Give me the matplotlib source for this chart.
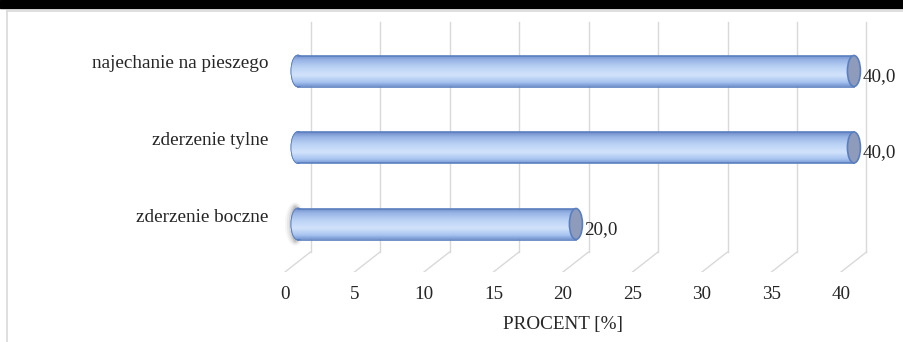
import numpy as np
import matplotlib
matplotlib.use("Agg")
import matplotlib.pyplot as plt
from matplotlib.patches import Ellipse, Rectangle
from matplotlib.transforms import ScaledTranslation
from matplotlib.colors import LinearSegmentedColormap

kategorie = ["zderzenie boczne", "zderzenie tylne", "najechanie na pieszego"]
procent = [20.0, 40.0, 40.0]
ticks = [0, 5, 10, 15, 20, 25, 30, 35, 40]

plt.rcParams['font.family'] = ['Liberation Serif', 'DejaVu Serif']
fs = 13.8

fig = plt.figure(figsize=(9.04, 3.42), dpi=100)
W, H = 904, 342

# tlo: czarny pasek u gory i szara ramka
fig.patches.append(Rectangle((0, 1 - 8 / H), 1, 8 / H, transform=fig.transFigure,
                             color='black', zorder=0))
fig.add_artist(plt.Line2D([7 / W, 7 / W], [0, 1 - 11 / H], transform=fig.transFigure,
                          color='#d9d9d9', lw=1.2))
fig.add_artist(plt.Line2D([7 / W, 1], [1 - 11 / H, 1 - 11 / H], transform=fig.transFigure,
                          color='#d9d9d9', lw=1.2))

# os: x front 0 -> px 285, 13.9 px na jednostke; y kategorie 0,1,2 -> px 224,147.5,71
px_x = 13.9
px_y = 76.5
left_px, right_px, top_px, bot_px = 268, 895, 16, 272
xl = ((left_px - 285) / px_x, (right_px - 285) / px_x)
yl = ((224 - bot_px) / px_y, (224 - top_px) / px_y)
ax = fig.add_axes([left_px / W, 1 - bot_px / H, (right_px - left_px) / W, (bot_px - top_px) / H])
ax.set_xlim(*xl)
ax.set_ylim(*yl)
for s in ax.spines.values():
    s.set_visible(False)
ax.patch.set_alpha(0)

depth_x = 25.5 / px_x
floor_front = yl[0]
floor_back = (224 - 252) / px_y
wall_top = (224 - 22) / px_y
grid_c = '#d9d9d9'
for t in ticks:
    ax.plot([t + depth_x, t + depth_x], [floor_back, wall_top], color=grid_c, lw=1, zorder=1)
    ax.plot([t, t + depth_x], [floor_front, floor_back], color=grid_c, lw=1, zorder=1)

ax.set_xticks(ticks)
ax.set_xticklabels([str(t) for t in ticks], fontsize=fs, color='#262626')
ax.tick_params(axis='x', length=0, pad=10)
ax.set_xlabel("PROCENT [%]", fontsize=fs, color='#262626')
ax.xaxis.set_label_coords((563 - left_px) / (right_px - left_px), -(324 - bot_px) / (bot_px - top_px))
ax.xaxis.label.set_va('center')

ypos = np.arange(len(kategorie))
ax.set_yticks(ypos)
ax.set_yticklabels(kategorie, fontsize=fs, color='#262626')
ax.tick_params(axis='y', length=0, pad=0)
for lab in ax.get_yticklabels():
    lab.set_transform(lab.get_transform() + ScaledTranslation(0, 9 / 100, fig.dpi_scale_trans))

# cylindry
off = 0.93
hw = 6.5 / px_x
bh = 31 / px_y
cmap = LinearSegmentedColormap.from_list(
    'cyl', [(0, '#7a9ad6'), (0.12, '#a8c4f0'), (0.35, '#d2e3fb'), (0.6, '#bcd3f5'),
            (0.85, '#98b4e6'), (1, '#6f8cc8')])
grad = np.linspace(1, 0, 64).reshape(-1, 1)

# cien przy najkrotszym slupku
i_min = int(np.argmin(procent))
for k, a in enumerate([0.05, 0.08, 0.12, 0.18]):
    ax.add_patch(Ellipse((off - hw * 0.4, ypos[i_min]), hw * (3.2 - 0.6 * k), bh * (1.4 - 0.08 * k),
                         color='#555555', alpha=a, lw=0, zorder=2))

bars = ax.barh(ypos, procent, left=off, height=bh, color='none', edgecolor='none', zorder=3)
for b, v, y in zip(bars, procent, ypos):
    # lewy koniec
    lc = Ellipse((off, y), 2 * hw, bh, facecolor='#a8c4f0', edgecolor='#5a7fc0', lw=1.2, zorder=3)
    ax.add_patch(lc)
    im = ax.imshow(grad, cmap=cmap, aspect='auto', extent=(off - hw, v + off, y - bh / 2, y + bh / 2),
                   zorder=3.5, interpolation='bicubic')
    ax.add_patch(Ellipse((off, y), 2 * hw, bh, facecolor='none', edgecolor='#5a7fc0', lw=1.2, zorder=3.4))
    im.set_clip_path(lc)
    im2 = ax.imshow(grad, cmap=cmap, aspect='auto', extent=(off, v + off, y - bh / 2, y + bh / 2),
                    zorder=3.5, interpolation='bicubic')
    im2.set_clip_path(b)
    ax.plot([off, v + off], [y + bh / 2, y + bh / 2], color='#5a7fc0', lw=1.2, zorder=3.6)
    ax.plot([off, v + off], [y - bh / 2, y - bh / 2], color='#5a7fc0', lw=1.2, zorder=3.6)
    # prawy koniec
    ax.add_patch(Ellipse((v + off, y), 2 * hw, bh, facecolor='#8e9bbb', edgecolor='#5a7fc0',
                         lw=1.2, zorder=4))
    ax.text(v + off + hw + 0.15, y - 0.07, f"{v:.1f}".replace('.', ','), fontsize=fs,
            color='#262626', va='center', ha='left', zorder=5)

fig.savefig("out.png", dpi=100)
